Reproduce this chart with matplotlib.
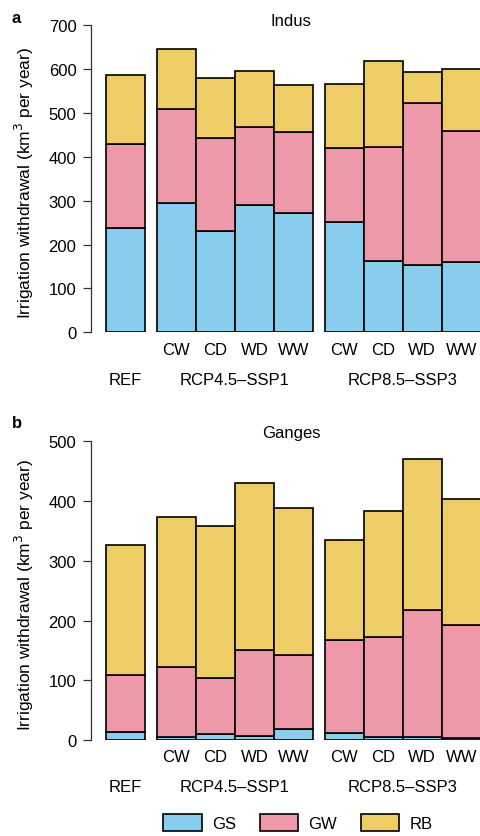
import matplotlib.pyplot as plt
import matplotlib.transforms as mtransforms
from matplotlib.patches import Patch
import numpy as np

plt.rcParams['font.family'] = ['Liberation Sans', 'DejaVu Sans']

# withdrawal by source (km3 per year): REF, RCP4.5-SSP1 x4, RCP8.5-SSP3 x4
scenarios = ['REF', 'CW', 'CD', 'WD', 'WW', 'CW', 'CD', 'WD', 'WW']
groups = ['REF', 'RCP4.5\u2013SSP1', 'RCP8.5\u2013SSP3']
sources = ['GS', 'GW', 'RB']

indus_gs = [238, 294, 230, 289, 271, 251, 162, 153, 159]
indus_gw = [192, 214, 212, 178, 186, 169, 261, 370, 299]
indus_rb = [155, 137, 137, 128, 106, 146, 194, 69, 142]

ganges_gs = [13, 5, 10, 6, 18, 12, 5, 5, 3]
ganges_gw = [96, 118, 93, 144, 124, 156, 167, 213, 189]
ganges_rb = [217, 250, 256, 280, 247, 166, 212, 252, 211]

colors = ['#88CCEE', '#EE99AA', '#EECC66']

# bar centres: REF alone, then two groups of four with a gap
xpos = np.array([0, 1.3, 2.3, 3.3, 4.3, 5.6, 6.6, 7.6, 8.6])
group_x = [0, 2.8, 7.1]

W, H = 480, 837
fig = plt.figure(figsize=(W / 100, H / 100), dpi=100)


def panel(top_px, zero_px, ymax, gs, gw, rb, title, letter, title_base, letter_base,
          sub_base, grp_base):
    ax = fig.add_axes([91 / W, 1 - zero_px / H, 389 / W, (zero_px - top_px) / H])
    bottom = np.zeros(len(xpos))
    for vals, c in zip([gs, gw, rb], colors):
        ax.bar(xpos, vals, width=1.0, bottom=bottom, color=c,
               edgecolor='black', linewidth=1.2)
        bottom = bottom + np.array(vals)
    ax.set_xlim(-0.89, 9.08)
    ax.set_ylim(0, ymax)
    ax.set_yticks(np.arange(0, ymax + 1, 100))
    for s in ['top', 'right', 'bottom']:
        ax.spines[s].set_visible(False)
    ax.spines['left'].set_color('#333333')
    ax.spines['left'].set_linewidth(0.9)
    ax.tick_params(axis='y', length=6, width=0.9, color='#333333', pad=4.5,
                   labelsize=12)
    ax.set_xticks([])

    tr = mtransforms.blended_transform_factory(ax.transData, fig.transFigure)
    for x, s in zip(xpos[1:], scenarios[1:]):
        ax.text(x, 1 - sub_base / H, s, transform=tr, ha='center',
                va='baseline', fontsize=12)
    for x, g in zip(group_x, groups):
        ax.text(x, 1 - grp_base / H, g, transform=tr, ha='center',
                va='baseline', fontsize=12)

    fig.text(291 / W, 1 - title_base / H, title, ha='center', va='baseline',
             fontsize=12)
    fig.text(12 / W, 1 - letter_base / H, letter, ha='left', va='baseline',
             fontsize=12, fontweight='bold')
    fig.text(24 / W, 1 - (top_px + zero_px) / 2 / H - 3 / H,
             'Irrigation withdrawal (km$^3$ per year)', rotation=90,
             ha='center', va='center', fontsize=12.5)
    return ax


panel(26, 333.3, 700, indus_gs, indus_gw, indus_rb, 'Indus', 'a',
      26, 23, 355, 385)
panel(442.3, 741, 500, ganges_gs, ganges_gw, ganges_rb, 'Ganges', 'b',
      438, 428, 762, 792)

handles = [Patch(facecolor=c, edgecolor='black', linewidth=1.2) for c in colors]
fig.legend(handles, sources, loc='center', bbox_to_anchor=(298 / W, 1 - 823.5 / H),
           ncol=3, frameon=False, fontsize=12, handlelength=2.3,
           handleheight=1.25, handletextpad=0.6, columnspacing=1.45,
           borderpad=0, borderaxespad=0)

fig.savefig('out.png', dpi=100)
